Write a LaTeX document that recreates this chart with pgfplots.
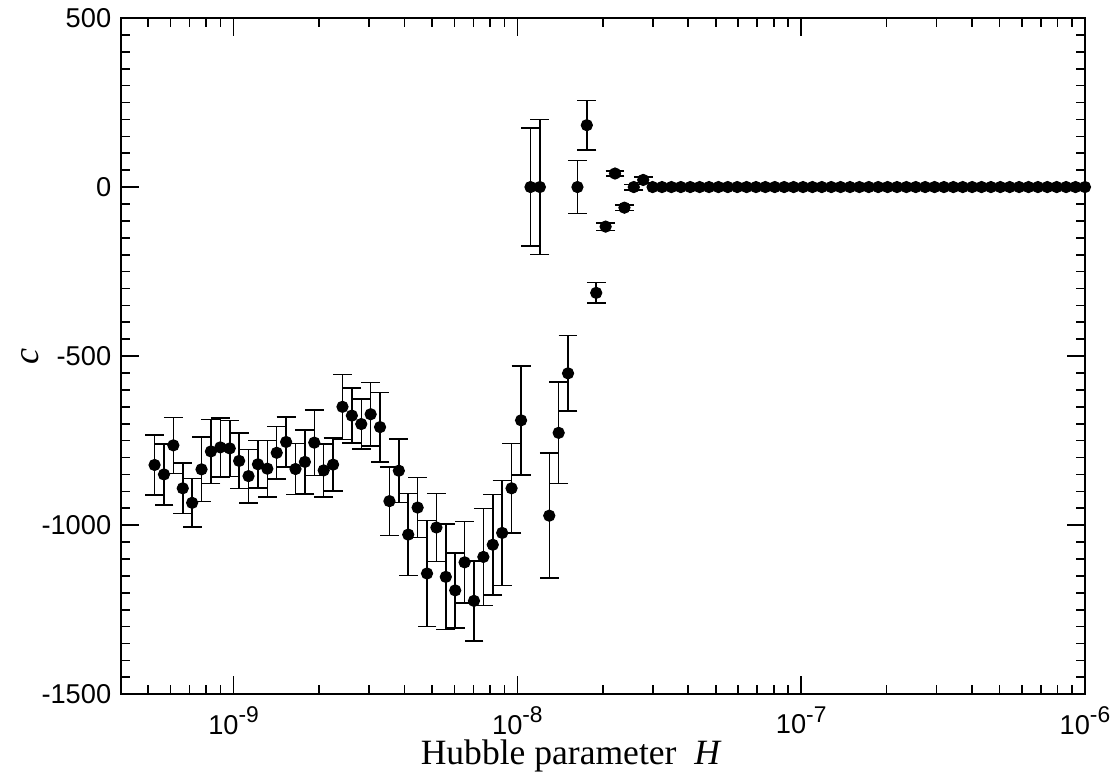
\documentclass[border=0pt]{standalone}
\usepackage{fontspec}
\setmainfont{Liberation Serif}
\setsansfont{Liberation Sans}
\usepackage{pgfplots}
\pgfplotsset{compat=1.18}
\usepackage{pgfplotstable}

% decade label: 10 with a raised exponent
\newcommand{\dec}[1]{10\raisebox{0.42em}{\fontsize{8.2}{9}\selectfont -#1}}

% fitted coefficient c with its uncertainty, per Hubble parameter H
\pgfplotstableread{
H          c      dc
5.267e-10  -822   89
5.684e-10  -850   90
6.134e-10  -764   83
6.620e-10  -891   75
7.144e-10  -934   72
7.710e-10  -835   95
8.320e-10  -782   95
8.979e-10  -770   87
9.692e-10  -773   83
1.0460e-9  -810   82
1.1289e-9  -855   79
1.2183e-9  -820   70
1.3148e-9  -833   83
1.4190e-9  -786   78
1.5313e-9  -754   74
1.6526e-9  -834   75
1.7835e-9  -813   95
1.9247e-9  -756   97
2.0772e-9  -838   78
2.2417e-9  -821   78
2.4192e-9  -650   96
2.6108e-9  -676   81
2.8176e-9  -701   74
3.0408e-9  -672   94
3.2815e-9  -710   103
3.5414e-9  -929   101
3.8219e-9  -839   94
4.1246e-9  -1028  121
4.4512e-9  -948   89
4.8037e-9  -1143  157
5.1842e-9  -1007  100
5.5948e-9  -1153  156
6.0378e-9  -1193  111
6.5160e-9  -1110  121
7.0320e-9  -1224  118
7.5890e-9  -1094  143
8.1900e-9  -1058  148
8.8386e-9  -1023  155
9.5386e-9  -891   133
1.0304e-8  -690   161
1.1120e-8  0      175
1.2001e-8  0      200
1.2952e-8  -972   185
1.3977e-8  -727   150
1.5084e-8  -551   112
1.6279e-8  0      78
1.7568e-8  183    73
1.8960e-8  -313   30
2.0461e-8  -117   11
2.2082e-8  40     8
2.3831e-8  -61    8
2.5718e-8  0      8
2.7755e-8  21     8
}\measured

% flat region, no spread
\pgfplotstableread{
H          c
2.9953e-8  0
3.2325e-8  0
3.4885e-8  0
3.7670e-8  0
4.0650e-8  0
4.3870e-8  0
4.7340e-8  0
5.1090e-8  0
5.5140e-8  0
5.9510e-8  0
6.4220e-8  0
6.9300e-8  0
7.4790e-8  0
8.0720e-8  0
8.7110e-8  0
9.4010e-8  0
1.0151e-7  0
1.0955e-7  0
1.1823e-7  0
1.2759e-7  0
1.3770e-7  0
1.4861e-7  0
1.6036e-7  0
1.7307e-7  0
1.8678e-7  0
2.0157e-7  0
2.1754e-7  0
2.3477e-7  0
2.5336e-7  0
2.7344e-7  0
2.9510e-7  0
3.1847e-7  0
3.4370e-7  0
3.7093e-7  0
4.0031e-7  0
4.3202e-7  0
4.6624e-7  0
5.0318e-7  0
5.4304e-7  0
5.8606e-7  0
6.3248e-7  0
6.8258e-7  0
7.3665e-7  0
7.9501e-7  0
8.5798e-7  0
9.2594e-7  0
1.0000e-6  0
}\flat

\begin{document}
\begin{tikzpicture}
\begin{axis}[
  scale only axis,
  width=347pt, height=243.4pt,
  xmode=log, log basis x=10,
  xmin=4.01e-10, xmax=1e-6,
  ymin=-1500, ymax=500,
  xtick={1e-9,1e-8,1e-7,1e-6},
  xticklabels={\dec{9},\dec{8},\dec{7},\dec{6}},
  minor xtick={5e-10,6e-10,7e-10,8e-10,9e-10,
               2e-9,3e-9,4e-9,5e-9,6e-9,7e-9,8e-9,9e-9,
               2e-8,3e-8,4e-8,5e-8,6e-8,7e-8,8e-8,9e-8,
               2e-7,3e-7,4e-7,5e-7,6e-7,7e-7,8e-7,9e-7},
  ytick={-1500,-1000,-500,0,500},
  yticklabels={-1500,-1000,-500,0,500},
  minor y tick num=9,
  tick align=inside,
  major tick length=6.5pt,
  minor tick length=3.2pt,
  axis line style={line width=0.7pt},
  every tick/.style={black, line width=0.6pt},
  ticklabel style={font=\sffamily\fontsize{9.8}{11}\selectfont},
  xticklabel style={yshift=-1pt},
  xlabel={Hubble parameter\ \ \textit{H}},
  ylabel={\textit{c}},
  xlabel style={font=\fontsize{12.8}{14}\selectfont,
    at={(axis description cs:0.467,0)}, anchor=base, yshift=-25.2pt},
  ylabel style={font=\fontsize{13}{15}\selectfont,
    at={(axis description cs:-0.094,0.5)}, anchor=center},
]
\addplot[only marks, mark=*, black, mark size=2pt,
  error bars/.cd, y dir=both, y explicit,
  error bar style={black, line width=0.55pt},
  error mark options={rotate=90, mark size=3.4pt, line width=0.55pt, black}]
  table[x=H, y=c, y error=dc]{\measured};
\addplot[only marks, mark=*, black, mark size=2pt]
  table[x=H, y=c]{\flat};
\end{axis}
\pgfresetboundingbox
\path ([shift={(-43.56pt,-29.16pt)}]current axis.south west)
  rectangle ([shift={(10.44pt,6.48pt)}]current axis.north east);
\end{tikzpicture}
\end{document}
